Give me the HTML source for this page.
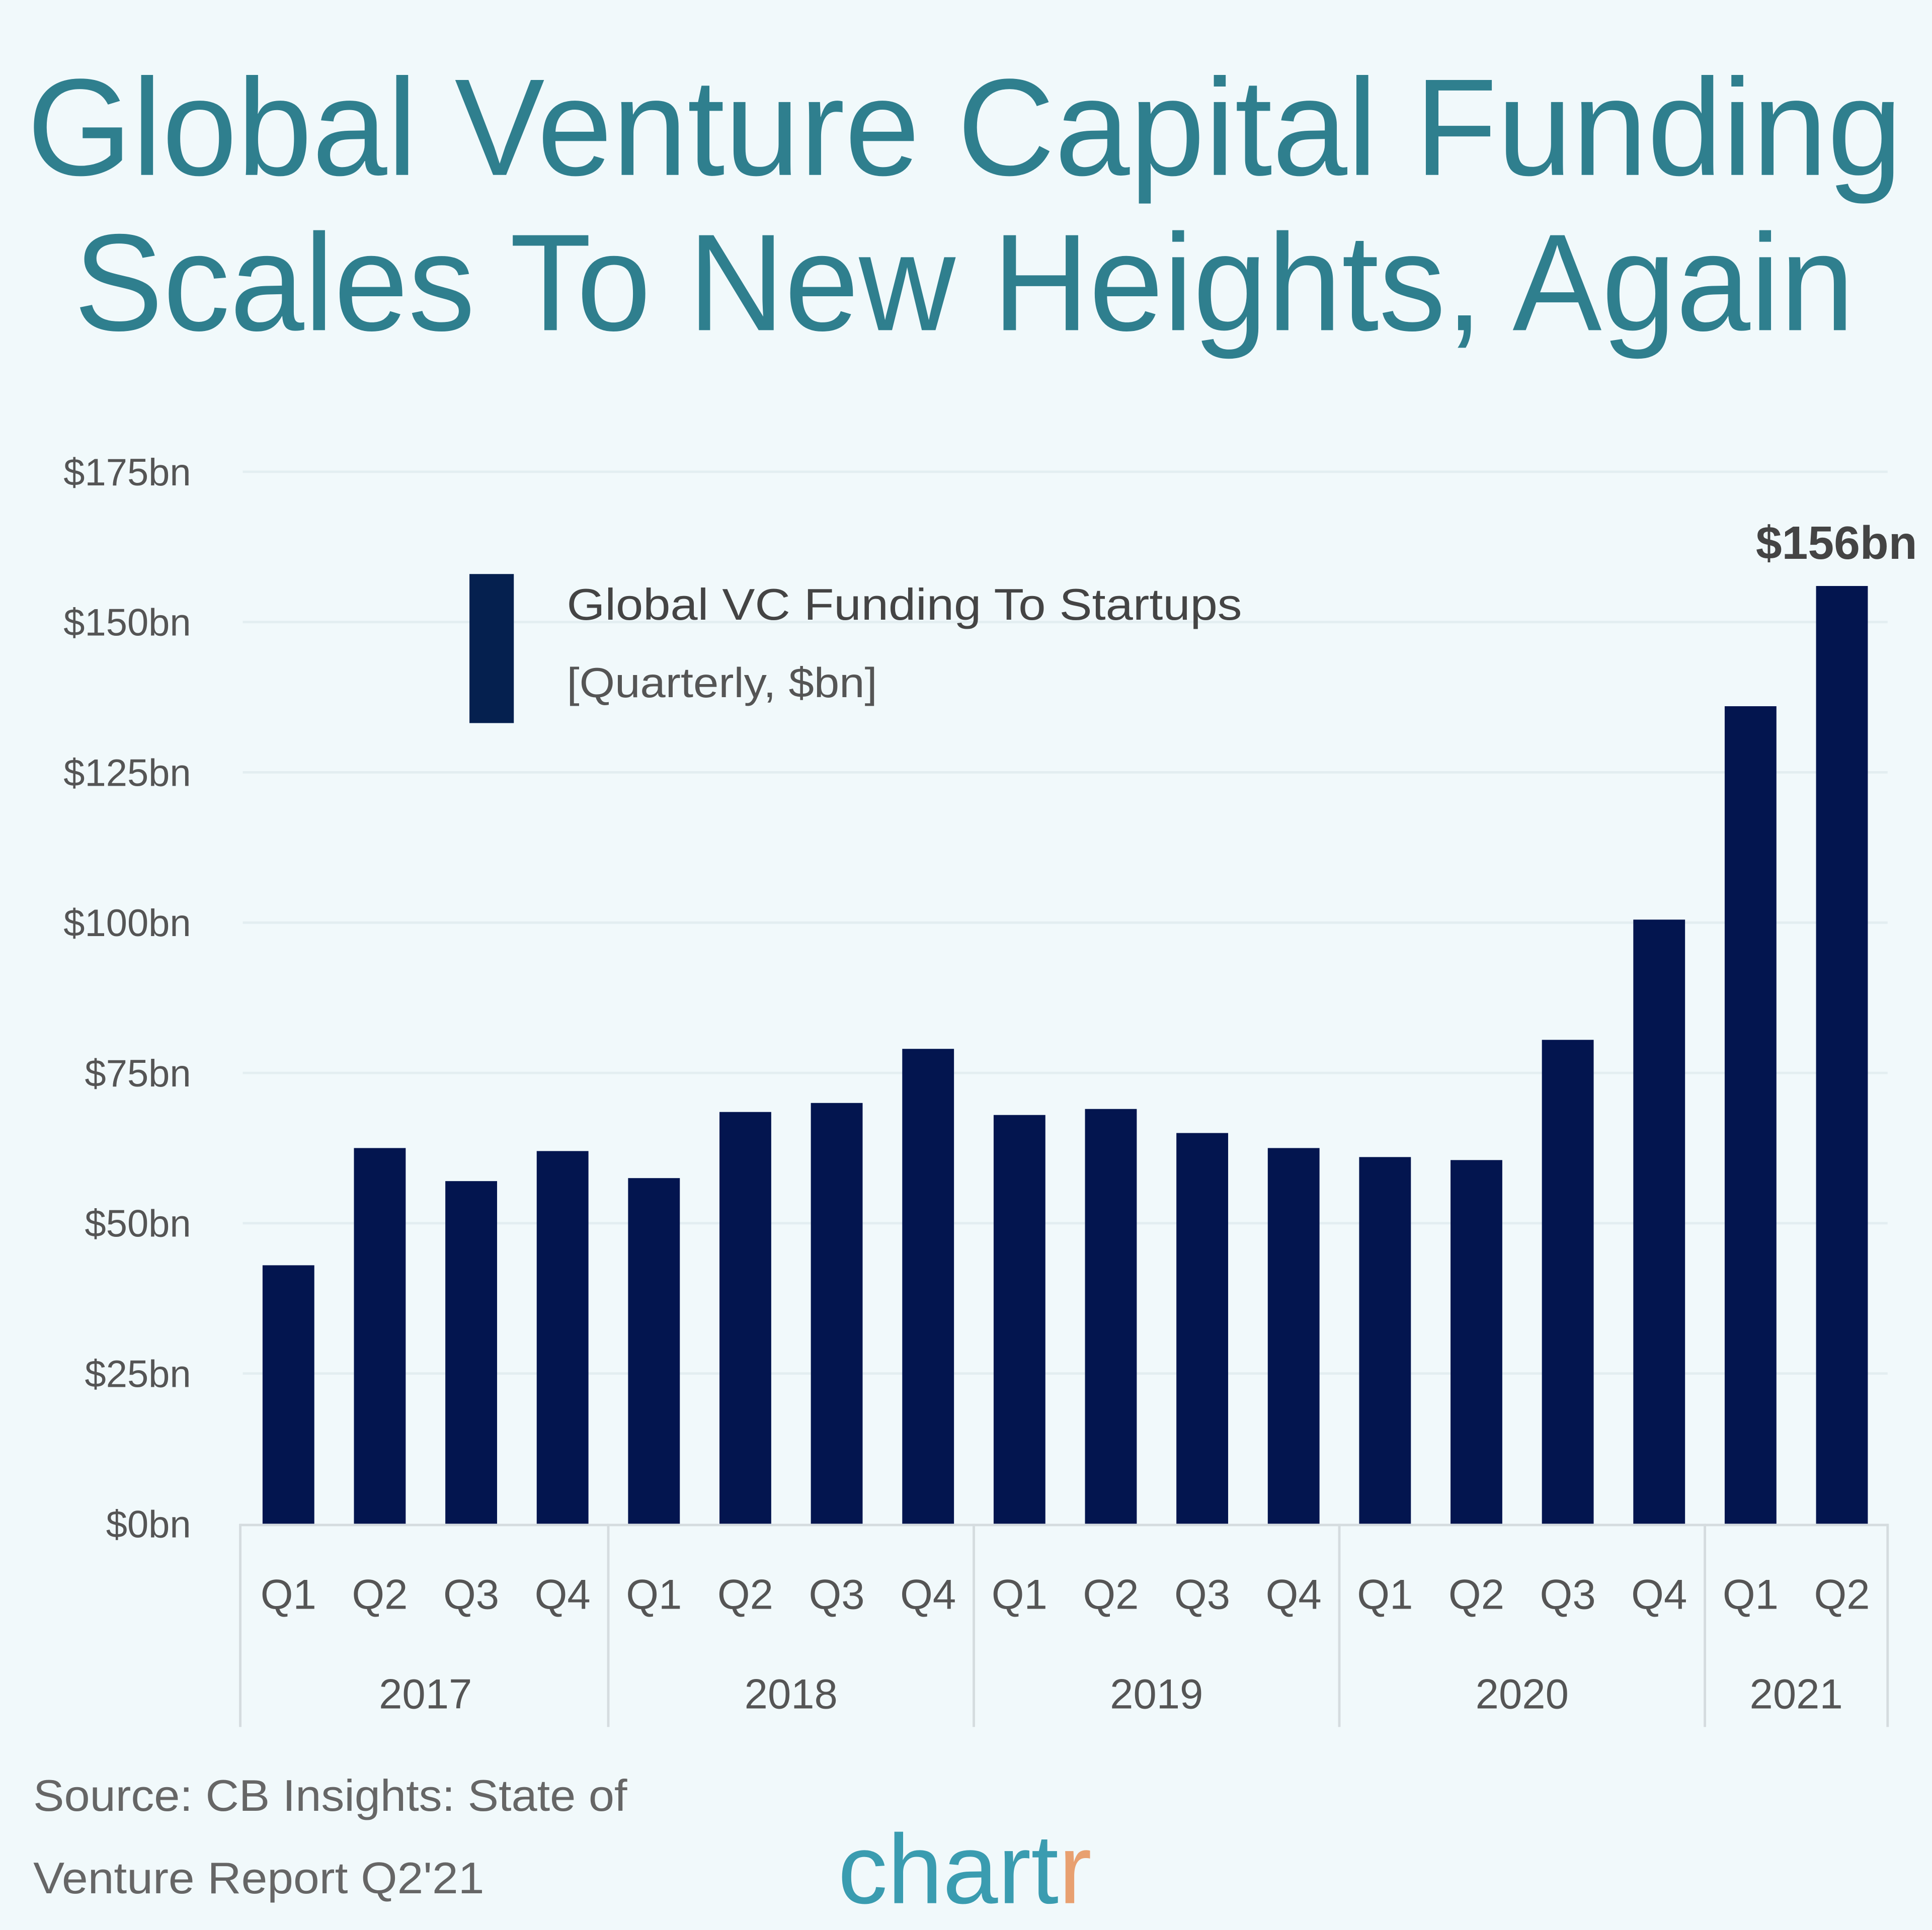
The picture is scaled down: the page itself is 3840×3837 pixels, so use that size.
<!DOCTYPE html>
<html><head><meta charset="utf-8"><style>
html,body{margin:0;padding:0;background:#f1f9fb;}
svg{display:block;}
text{font-family:"Liberation Sans",sans-serif;}
</style></head><body>
<svg id="chart" width="3840" height="3837" viewBox="0 0 1568 1566.8" xmlns="http://www.w3.org/2000/svg">
<rect x="0" y="0" width="1568" height="1567" fill="#f1f9fb"/>
<text x="22" y="142" font-size="112" fill="#2f7f8e" textLength="1522" lengthAdjust="spacingAndGlyphs">Global Venture Capital Funding</text>
<text x="60" y="268" font-size="112" fill="#2f7f8e" textLength="1445" lengthAdjust="spacingAndGlyphs">Scales To New Heights, Again</text>
<g id="grid"></g>
<g id="yticks"></g>
<g id="bars"></g>
<g id="xaxis"></g>
<rect x="381" y="466" width="36" height="121" fill="#05204f"/>
<text x="460" y="503" font-size="36" fill="#444" textLength="548" lengthAdjust="spacingAndGlyphs">Global VC Funding To Startups</text>
<text x="460" y="566" font-size="34" fill="#555" textLength="252" lengthAdjust="spacingAndGlyphs">[Quarterly, $bn]</text>
<text id="annot" x="1556" y="455" font-size="38" fill="#444" text-anchor="end" font-weight="bold"></text>
<text x="27" y="1470" font-size="36" fill="#666" textLength="482" lengthAdjust="spacingAndGlyphs">Source: CB Insights: State of</text>
<text x="27" y="1537" font-size="36" fill="#666" textLength="366" lengthAdjust="spacingAndGlyphs">Venture Report Q2'21</text>
<text x="680" y="1545" font-size="80" fill="#3a9cb0" font-family="Liberation Serif, serif" textLength="206" lengthAdjust="spacingAndGlyphs">chart<tspan fill="#e8a070">r</tspan></text>
</svg>
<script>
const categories = ["Q1","Q2","Q3","Q4","Q1","Q2","Q3","Q4","Q1","Q2","Q3","Q4","Q1","Q2","Q3","Q4","Q1","Q2"];
const years = ["2017","2018","2019","2020","2021"];
const yearCounts = [4,4,4,4,2];
const values = [43,62.5,57,62,57.5,68.5,70,79,68,69,65,62.5,61,60.5,80.5,100.5,136,156];
const yTicks = [0,25,50,75,100,125,150,175];
const yTickLabels = ["$0bn","$25bn","$50bn","$75bn","$100bn","$125bn","$150bn","$175bn"];
const peakLabel = "$156bn";

const NS="http://www.w3.org/2000/svg";
const X0=197, X1=1532, Y0=1237, Y1=383, YMAX=175;
const slot=(X1-X0)/categories.length;
const y=v=>Y0-(v/YMAX)*(Y0-Y1);
const xc=i=>X0+slot*(i+0.5);
function mk(tag,attrs,parent){const e=document.createElementNS(NS,tag);for(const k in attrs)e.setAttribute(k,attrs[k]);parent.appendChild(e);return e;}
const grid=document.getElementById('grid'), yt=document.getElementById('yticks'), bars=document.getElementById('bars'), xa=document.getElementById('xaxis');
yTicks.forEach((t,i)=>{
  if(t>0){const l=mk('line',{x1:X0,x2:X1,y1:y(t),y2:y(t),stroke:'#e3eef1','stroke-width':2},grid);
  
  }
  const tx=mk('text',{x:155,y:y(t)+11,'font-size':31,fill:'#555','text-anchor':'end'},yt);
  tx.textContent=yTickLabels[i];
  
  
});
values.forEach((v,i)=>{
  const r=mk('rect',{x:xc(i)-21,y:y(v),width:42,height:Y0-y(v),fill:'#03154f'},bars);
  
  
  const q=mk('text',{x:xc(i),y:1306,'font-size':34,fill:'#555','text-anchor':'middle'},xa);
  q.textContent=categories[i];
  
  
});
const base=mk('line',{x1:X0-2,x2:X1,y1:Y0+1,y2:Y0+1,stroke:'#d5dcdf','stroke-width':2},xa);


let start=0;
const sep0=mk('line',{x1:X0-2,x2:X0-2,y1:Y0,y2:1402,stroke:'#d5dcdf','stroke-width':2},xa);


years.forEach((yr,j)=>{
  const end=start+yearCounts[j];
  const xe=X0+slot*end;
  const s=mk('line',{x1:xe,x2:xe,y1:Y0,y2:1402,stroke:'#d5dcdf','stroke-width':2},xa);
  
  
  const t=mk('text',{x:(X0+slot*start+xe)/2,y:1387,'font-size':34,fill:'#555','text-anchor':'middle'},xa);
  t.textContent=yr;
  
  
  start=end;
});
const a=document.getElementById('annot');
a.textContent=peakLabel;
a.setAttribute('y',y(values[values.length-1])-22);
</script>
</body></html>
